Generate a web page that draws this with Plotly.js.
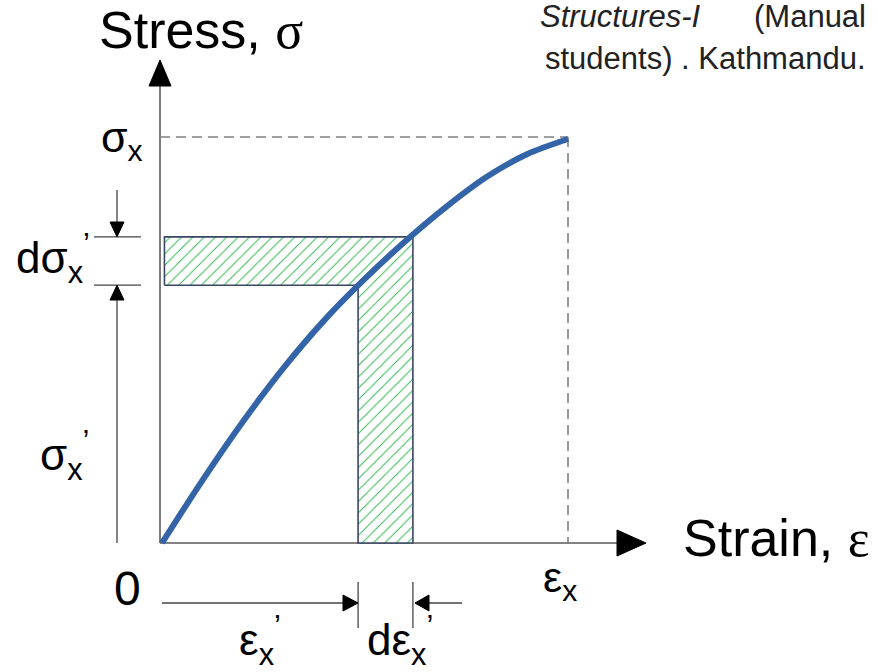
<!DOCTYPE html>
<html>
<head>
<meta charset="utf-8">
<script src="https://cdn.plot.ly/plotly-3.0.1.min.js"></script>
<style>html,body{margin:0;padding:0;background:#fff;}#chart{width:878px;height:672px;}</style>
</head>
<body>
<div id="chart"></div>
<script>
// ---- data (normalised units: εx = 1, σx = 1) ----
var strain = [0, 0.1, 0.2, 0.3, 0.4, 0.5, 0.6, 0.7, 0.8, 0.9, 1.0];
var stress = [0, 0.155, 0.300, 0.432, 0.549, 0.651, 0.744, 0.828, 0.902, 0.958, 0.995];
var epsX = 1.0, sigX = 1.0;
var epsP = 0.483, epsP2 = 0.618;   // εx' and εx' + dεx'
var sigP = 0.635, sigP2 = 0.754;   // σx' and σx' + dσx'
var hatchLeft = 0.006;

// pixel helpers for decorations (origin at 162,543; 406 px per unit)
var OX = 162, OY = 543, S = 406;
function X(px){ return (px - OX) / S; }
function Y(py){ return (OY - py) / S; }

var hatch = {
  x: [hatchLeft, hatchLeft, epsP2, epsP2, epsP, epsP, hatchLeft],
  y: [sigP, sigP2, sigP2, 0, 0, sigP, sigP],
  mode: 'lines', fill: 'toself',
  fillcolor: 'rgba(0,0,0,0)',
  fillpattern: {shape: '/', fgcolor: '#2fb84f', bgcolor: 'white', size: 8, solidity: 0.12},
  line: {color: '#3a4763', width: 1.6},
  hoverinfo: 'skip', showlegend: false
};
var curve = {
  x: strain, y: stress, mode: 'lines',
  line: {color: '#3464a8', width: 6, shape: 'spline', smoothing: 0.8},
  hoverinfo: 'skip', showlegend: false
};

function line(x0,y0,x1,y1,color,width,dash){
  return {type:'line', xref:'x', yref:'y', x0:x0, y0:y0, x1:x1, y1:y1,
          line:{color:color, width:width, dash:dash||'solid'}, layer:'below'};
}
function tri(pts){
  var p = 'M' + pts.map(function(q){return q[0]+','+q[1];}).join(' L') + ' Z';
  return {type:'path', xref:'x', yref:'y', path:p, fillcolor:'#000', line:{color:'#000', width:1}};
}

var axisCol = '#5a5a5a', dimCol = '#444';
var shapes = [
  // axes
  line(X(160), 0, X(160), Y(82), axisCol, 1.6),
  line(X(160), 0, X(620), 0, axisCol, 1.6),
  tri([[X(160),Y(60)],[X(149),Y(86)],[X(171),Y(86)]]),
  tri([[X(646),0],[X(617),Y(530)],[X(617),Y(556)]]),
  // dashed guide lines
  line(X(160), sigX, epsX, sigX, '#808080', 1.6, '10px,6px'),
  line(epsX, sigX, epsX, 0, '#808080', 1.6, '10px,6px'),
  // dσx' dimension
  line(X(94), sigP2, X(141), sigP2, dimCol, 1.3),
  line(X(94), sigP, X(141), sigP, dimCol, 1.3),
  line(X(117), Y(190), X(117), Y(223), dimCol, 1.3),
  tri([[X(117),sigP2],[X(110),Y(222)],[X(124),Y(222)]]),
  line(X(117), 0, X(117), Y(300), dimCol, 1.3),
  tri([[X(117),sigP],[X(110),Y(300)],[X(124),Y(300)]]),
  // εx' dimension
  line(X(162), Y(603), X(344), Y(603), dimCol, 1.3),
  tri([[epsP,Y(603)],[X(343),Y(595)],[X(343),Y(611)]]),
  line(epsP, Y(582), epsP, Y(628), dimCol, 1.3),
  line(epsP2, Y(582), epsP2, Y(628), dimCol, 1.3),
  line(X(428), Y(603), X(462), Y(603), dimCol, 1.3),
  tri([[epsP2+0.005,Y(603)],[X(429),Y(595)],[X(429),Y(611)]])
];

var F = 'Liberation Sans, Arial, sans-serif';
function lab(text, px, py, size, opts){
  var a = {text:text, x:X(px), y:Y(py), xref:'x', yref:'y', showarrow:false,
           xanchor:'center', yanchor:'middle', font:{family:F, size:size, color:'#000'}};
  if (opts) for (var k in opts) a[k] = opts[k];
  return a;
}
var serif = '<span style="font-family:Liberation Serif, Times New Roman, serif">';
var annotations = [
  lab('Stress, ' + serif + 'σ</span>', 201, 30, 52),
  lab('Strain, ' + serif + 'ε</span>', 776, 538, 52),
  lab('σ<sub>x</sub>', 122, 140, 43),
  lab('dσ<sub>x</sub><sup>’</sup>', 53, 258, 44),
  lab('σ<sub>x</sub><sup>’</sup>', 64, 455, 44),
  lab('0', 127, 588, 48),
  lab('ε<sub>x</sub>', 560, 580, 43),
  lab('ε<sub>x</sub><sup>’</sup>', 260, 640, 44),
  lab('dε<sub>x</sub><sup>’</sup>', 400, 640, 44),
  lab('<i>Structures-I</i>', 538, 16, 31, {xanchor:'left', font:{family:F, size:31, color:'#222'}}),
  lab('(Manual', 868, 16, 31, {xanchor:'right', font:{family:F, size:31, color:'#222'}}),
  lab('students) . Kathmandu.', 868, 58, 31, {xanchor:'right', font:{family:F, size:31, color:'#222'}})
];

var layout = {
  width: 878, height: 672,
  margin: {l:0, r:0, t:0, b:0, pad:0},
  paper_bgcolor: '#fff', plot_bgcolor: '#fff',
  xaxis: {range:[X(0), X(878)], visible:false, fixedrange:true},
  yaxis: {range:[Y(672), Y(0)], visible:false, fixedrange:true},
  shapes: shapes, annotations: annotations, showlegend:false
};
Plotly.newPlot('chart', [hatch, curve], layout, {staticPlot:true, displayModeBar:false});
</script>
</body>
</html>
